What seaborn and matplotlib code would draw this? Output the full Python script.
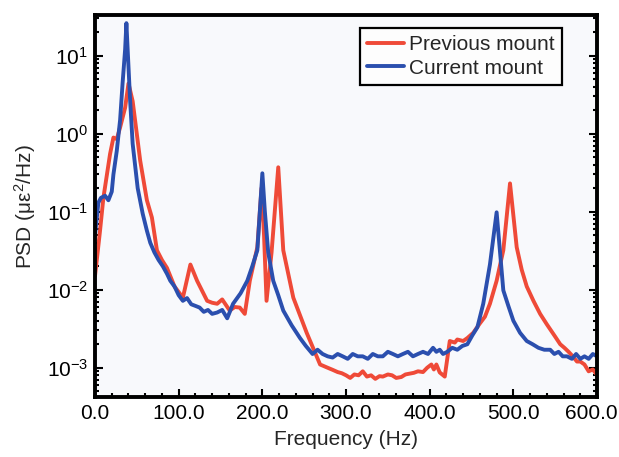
import numpy as np
import pandas as pd
import matplotlib
matplotlib.use("Agg")
import matplotlib.pyplot as plt
import matplotlib.transforms as mtransforms
import seaborn as sns
from matplotlib.ticker import MultipleLocator, FormatStrFormatter, LogLocator

# previous mount (red)
prev_freq = [0, 6, 10, 18, 22, 26, 30, 36, 40, 45, 54, 62, 68, 74, 80, 86, 95, 105, 114, 122, 134,
             140, 146, 152, 161, 167, 173, 179, 185, 194, 199, 202, 205, 211, 219, 225, 237, 253,
             269, 278, 284, 290, 295, 300, 305, 310, 315, 320, 325, 330, 335, 340, 344, 350, 355,
             360, 366, 371, 376, 381, 386, 392, 397, 402, 405, 408, 412, 418, 424, 430, 433, 440,
             445, 452, 460, 466, 472, 480, 488, 496, 504, 510, 516, 524, 532, 540, 545, 550, 556,
             561, 566, 571, 576, 580, 585, 590, 595, 600]
prev_psd = [0.015, 0.057, 0.15, 0.55, 0.89, 0.85, 1.2, 2.15, 4.4, 2.6, 0.45, 0.14, 0.084, 0.032,
            0.024, 0.019, 0.011, 0.0079, 0.021, 0.013, 0.0072, 0.0068, 0.0066, 0.0075, 0.0054,
            0.006, 0.0059, 0.0049, 0.013, 0.035, 0.2, 0.05, 0.0072, 0.03, 0.37, 0.032, 0.0079,
            0.0028, 0.0011, 0.0010, 0.00094, 0.00088, 0.00085, 0.0008, 0.00074, 0.00082, 0.0008,
            0.0009, 0.00077, 0.0008, 0.00072, 0.00078, 0.00077, 0.00082, 0.0008, 0.00074,
            0.00076, 0.00082, 0.00084, 0.00086, 0.0009, 0.00088, 0.001, 0.0011, 0.00095,
            0.0011, 0.00087, 0.00077, 0.0022, 0.0021, 0.0023, 0.0022, 0.0024, 0.0028, 0.0037,
            0.0045, 0.0066, 0.013, 0.032, 0.23, 0.035, 0.018, 0.011, 0.0072, 0.0049, 0.0036,
            0.003, 0.0025, 0.002, 0.0018, 0.0016, 0.0014, 0.0012, 0.0012, 0.0011, 0.0009,
            0.00095, 0.00081]

# current mount (blue)
curr_freq = [0, 4, 7, 12, 16, 20, 22, 26, 30, 33, 36, 37.5, 39, 42, 45, 51, 57, 62, 66, 71, 76,
             81, 86, 90, 95, 100, 105, 110, 115, 120, 125, 130, 135, 140, 146, 152, 158, 165,
             174, 182, 188, 194, 197, 200, 203, 207, 213, 219, 225, 235, 245, 252, 260, 266, 272,
             278, 284, 290, 296, 302, 308, 314, 320, 326, 332, 338, 344, 350, 356, 362, 368, 374,
             380, 386, 392, 398, 404, 408, 412, 416, 421, 427, 433, 439, 445, 451, 457, 464, 472,
             480, 488, 494, 500, 508, 516, 523, 530, 537, 544, 549, 554, 559, 564, 570, 575, 580,
             585, 590, 595, 600]
curr_psd = [0.05, 0.13, 0.15, 0.16, 0.14, 0.18, 0.3, 0.6, 1.5, 4.5, 12, 26, 12, 2.6, 0.74, 0.2,
            0.094, 0.057, 0.04, 0.03, 0.024, 0.02, 0.016, 0.013, 0.011, 0.0085, 0.0072, 0.0078,
            0.0065, 0.0062, 0.0059, 0.0052, 0.0055, 0.0049, 0.0051, 0.0055, 0.0043, 0.0066,
            0.009, 0.013, 0.02, 0.032, 0.1, 0.31, 0.1, 0.03, 0.013, 0.0085, 0.0054, 0.0035,
            0.0024, 0.0019, 0.0015, 0.0017, 0.0015, 0.0014, 0.00135, 0.0015, 0.0014, 0.0013,
            0.0015, 0.0014, 0.0014, 0.0013, 0.0015, 0.0014, 0.0014, 0.0016, 0.0015, 0.0014,
            0.0015, 0.0016, 0.0014, 0.0015, 0.0016, 0.0015, 0.0018, 0.0016, 0.0017, 0.0015,
            0.0016, 0.0018, 0.0017, 0.0019, 0.002, 0.0026, 0.0033, 0.0066, 0.021, 0.098, 0.0098,
            0.0062, 0.004, 0.0028, 0.0022, 0.002, 0.0018, 0.0017, 0.0017, 0.0015, 0.0016,
            0.0014, 0.0014, 0.0013, 0.0015, 0.0013, 0.0014, 0.0013, 0.0015, 0.0014]

df = pd.concat([
    pd.DataFrame({"freq": prev_freq, "psd": prev_psd, "mount": "Previous mount"}),
    pd.DataFrame({"freq": curr_freq, "psd": curr_psd, "mount": "Current mount"}),
])

sns.set_style("ticks")
plt.rcParams["font.family"] = ["Liberation Sans", "DejaVu Sans"]
plt.rcParams["mathtext.default"] = "regular"

fig = plt.figure(figsize=(6.19, 4.57), dpi=100)
ax = fig.add_axes([0.1535, 0.131, 0.811, 0.836])
ax.set_facecolor("#f8f9fc")

sns.lineplot(data=df, x="freq", y="psd", hue="mount", ax=ax, sort=False,
             palette={"Previous mount": "#ef4a38", "Current mount": "#2b4fae"},
             linewidth=2.8, estimator=None)

ax.set_yscale("log")
ax.set_xlim(0, 600)
ax.set_ylim(4.2e-4, 33)
ax.xaxis.set_major_locator(MultipleLocator(100))
ax.xaxis.set_minor_locator(MultipleLocator(20))
ax.xaxis.set_major_formatter(FormatStrFormatter("%.1f"))
ax.yaxis.set_major_locator(LogLocator(base=10, numticks=10))
ax.yaxis.set_minor_locator(LogLocator(base=10, subs=np.arange(2, 10), numticks=20))

ax.tick_params(which="both", direction="in", right=True, top=False, labelsize=15,
               width=1.5, colors="black")
ax.tick_params(which="major", length=6)
ax.tick_params(which="minor", length=3)
ax.tick_params(axis="x", which="major", pad=5)
ax.tick_params(axis="y", which="major", pad=5)
for s in ax.spines.values():
    s.set_linewidth(2.8)
    s.set_color("black")

ax.set_xlabel("Frequency (Hz)", fontsize=15, labelpad=5)
ax.set_ylabel("PSD (με$^{2}$/Hz)", fontsize=15, labelpad=6)

leg = ax.legend(loc="upper right", bbox_to_anchor=(0.93, 0.966), fontsize=15, frameon=True,
                fancybox=False, handlelength=1.75, handletextpad=0.25, borderpad=0.35,
                labelspacing=0.2, borderaxespad=0, shadow=False)
leg.get_frame().set_edgecolor("black")
leg.get_frame().set_linewidth(1.6)
leg.get_frame().set_facecolor("#fdfdfd")
leg.get_frame().set_alpha(1)

# the 600.0 label sits a little inside the figure edge, as in the original
fig.canvas.draw()
for lab in ax.get_xticklabels():
    if lab.get_text() == "600.0":
        lab.set_transform(lab.get_transform()
                          + mtransforms.ScaledTranslation(-0.06, 0, fig.dpi_scale_trans))

fig.savefig("out.png", dpi=100)
